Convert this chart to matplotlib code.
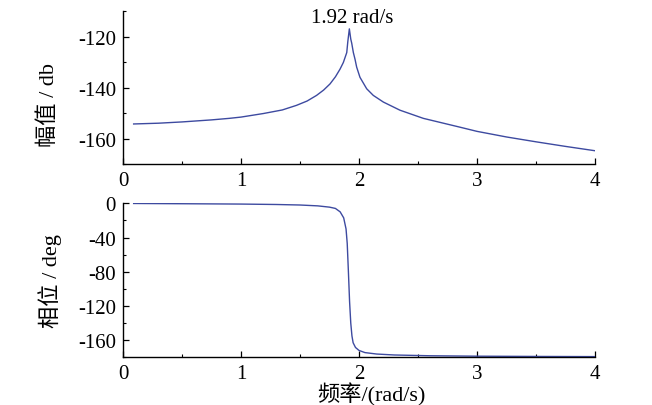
import numpy as np
import matplotlib
matplotlib.use('Agg')
import matplotlib.pyplot as plt
from matplotlib.ticker import MultipleLocator

# magnitude curve (rad/s, dB)
mag_w = [0.09, 0.3, 0.5, 0.75, 0.9, 1.0, 1.19, 1.35, 1.47, 1.56, 1.64, 1.70,
         1.754, 1.80, 1.839, 1.867, 1.896, 1.905, 1.918, 1.93, 1.938, 1.952,
         1.966, 1.98, 2.008, 2.065, 2.121, 2.206, 2.347, 2.545, 2.85, 3.0, 3.25,
         3.5, 3.75, 4.0]
mag_db = [-154.3, -154.0, -153.5, -152.7, -152.1, -151.6, -150.2, -148.8, -147.0,
          -145.3, -143.1, -141.0, -138.6, -135.8, -132.8, -130.2, -126.3, -122.0,
          -117.0, -121.0, -122.6, -126.3, -128.9, -132.0, -136.0, -140.5, -143.1,
          -145.7, -148.9, -152.1, -155.5, -157.2, -159.4, -161.3, -163.1, -164.8]

# phase curve (rad/s, deg)
ph_w = [0.09, 0.5, 1.0, 1.3, 1.5, 1.65, 1.75, 1.8, 1.84, 1.87, 1.89, 1.9, 1.91,
        1.92, 1.93, 1.94, 1.95, 1.97, 2.0, 2.05, 2.15, 2.3, 2.6, 3.0, 3.5, 4.0]
ph_deg = [-0.2, -0.5, -0.9, -1.4, -2.0, -3.0, -4.5, -6.0, -10.0, -17.0, -30.0,
          -47.0, -80.0, -115.0, -140.0, -155.0, -163.0, -168.5, -172.0, -174.5,
          -176.2, -177.3, -178.2, -178.7, -179.0, -179.2]

peak_w = 1.92
peak_label = '1.92 rad/s'

plt.rcParams['font.family'] = ['Liberation Serif', 'Noto Sans CJK SC']
plt.rcParams['axes.unicode_minus'] = False

color = '#3d4aa0'
fig = plt.figure(figsize=(6.52, 4.06), dpi=100)
ax1 = fig.add_axes([0.1887, 0.5936, 0.7239, 0.3768])
ax2 = fig.add_axes([0.1887, 0.1175, 0.7239, 0.3793])

ax1.plot(mag_w, mag_db, color=color, lw=1.0)
ax2.plot(ph_w, ph_deg, color=color, lw=1.0)

ax1.set_xlim(0, 4)
ax1.set_ylim(-170, -110)
ax1.set_yticks([-160, -140, -120])
ax1.yaxis.set_minor_locator(MultipleLocator(10))

ax2.set_xlim(0, 4)
ax2.set_ylim(-180, 0)
ax2.set_yticks([-160, -120, -80, -40, 0])
ax2.yaxis.set_minor_locator(MultipleLocator(20))

for ax in (ax1, ax2):
    ax.xaxis.set_major_locator(MultipleLocator(1))
    ax.xaxis.set_minor_locator(MultipleLocator(0.5))
    ax.spines['top'].set_visible(False)
    ax.spines['right'].set_visible(False)
    for s in ('left', 'bottom'):
        ax.spines[s].set_linewidth(1.0)
    ax.tick_params(which='major', direction='in', length=4.5, width=0.9,
                   labelsize=15, pad=5)
    ax.tick_params(which='minor', direction='in', length=2.3, width=0.8)

ax1.annotate(peak_label, xy=(1.94, -112.6), ha='center', va='center',
             fontsize=15, annotation_clip=False)

ax1.set_ylabel('幅值 / db', fontsize=16)
ax1.yaxis.set_label_coords(-0.136, 0.395)
ax2.set_ylabel('相位 / deg', fontsize=16)
ax2.yaxis.set_label_coords(-0.13, 0.5)
ax2.set_xlabel('频率/(rad/s)', fontsize=16)
ax2.xaxis.set_label_coords(0.526, -0.235)
ax2.xaxis.label.set_va('center')

fig.savefig('out.png', dpi=100)
